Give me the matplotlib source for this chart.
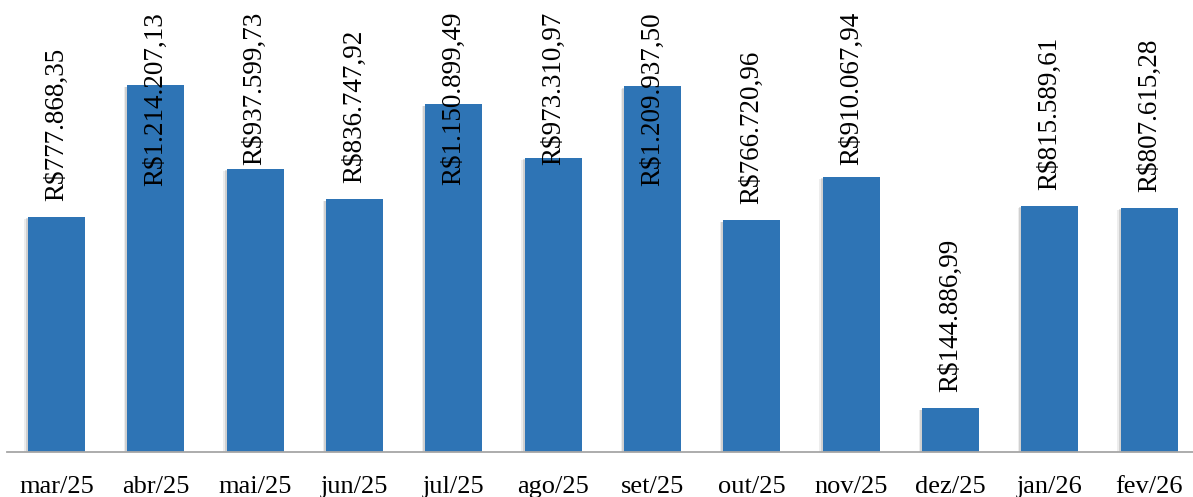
import matplotlib
matplotlib.use("Agg")
import matplotlib.pyplot as plt
import matplotlib.patheffects as pe

# Monthly totals (R$)
months = ["mar/25", "abr/25", "mai/25", "jun/25", "jul/25", "ago/25",
          "set/25", "out/25", "nov/25", "dez/25", "jan/26", "fev/26"]
values = [777868.35, 1214207.13, 937599.73, 836747.92, 1150899.49, 973310.97,
          1209937.50, 766720.96, 910067.94, 144886.99, 815589.61, 807615.28]


def brl(v):
    s = f"{v:,.2f}"
    s = s.replace(",", "X").replace(".", ",").replace("X", ".")
    return "R$" + s


W, H, DPI = 1193, 497, 100
fig = plt.figure(figsize=(W / DPI, H / DPI), dpi=DPI)
plt.rcParams["font.family"] = ["Liberation Serif", "DejaVu Serif"]

ax_left = 6.8 / W
ax_width = (1199.0 - 6.8) / W
ax = fig.add_axes([ax_left, (H - 452) / H, ax_width, 423 / H])

bar_color = "#2E74B5"
x = list(range(len(months)))
bars = ax.bar(x, values, width=0.574, color=bar_color, zorder=3)
for b in bars:
    b.set_path_effects([
        pe.SimplePatchShadow(offset=(-2.5, -1.5), shadow_rgbFace="#000000", alpha=0.07),
        pe.SimplePatchShadow(offset=(-1.5, -1.0), shadow_rgbFace="#000000", alpha=0.12),
        pe.Normal(),
    ])

ax.set_xlim(-0.5, len(months) - 0.5)
ax.set_ylim(0, 1400000)
ax.set_yticks([])
for s in ["top", "right", "left"]:
    ax.spines[s].set_visible(False)
ax.spines["bottom"].set_color("#A6A6A6")
ax.spines["bottom"].set_linewidth(1.3)
ax.spines["bottom"].set_zorder(4)

ax.set_xticks(x)
ax.set_xticklabels(months, fontsize=19, color="black")
ax.tick_params(axis="x", length=0, pad=17)

# Value labels, rotated, kept inside the figure
labels = []
for i, v in enumerate(values):
    t = ax.annotate(brl(v), xy=(i, v), xytext=(0, 16), textcoords="offset pixels",
                    rotation=90, ha="center", va="bottom", fontsize=19.5,
                    color="black", zorder=5, annotation_clip=False)
    labels.append(t)

fig.canvas.draw()
renderer = fig.canvas.get_renderer()
top_limit = H - 12
for t in labels:
    bb = t.get_window_extent(renderer)
    if bb.y1 > top_limit:
        dx, dy = t.xyann
        t.xyann = (dx, dy - (bb.y1 - top_limit))

fig.savefig("out.png", dpi=DPI)
